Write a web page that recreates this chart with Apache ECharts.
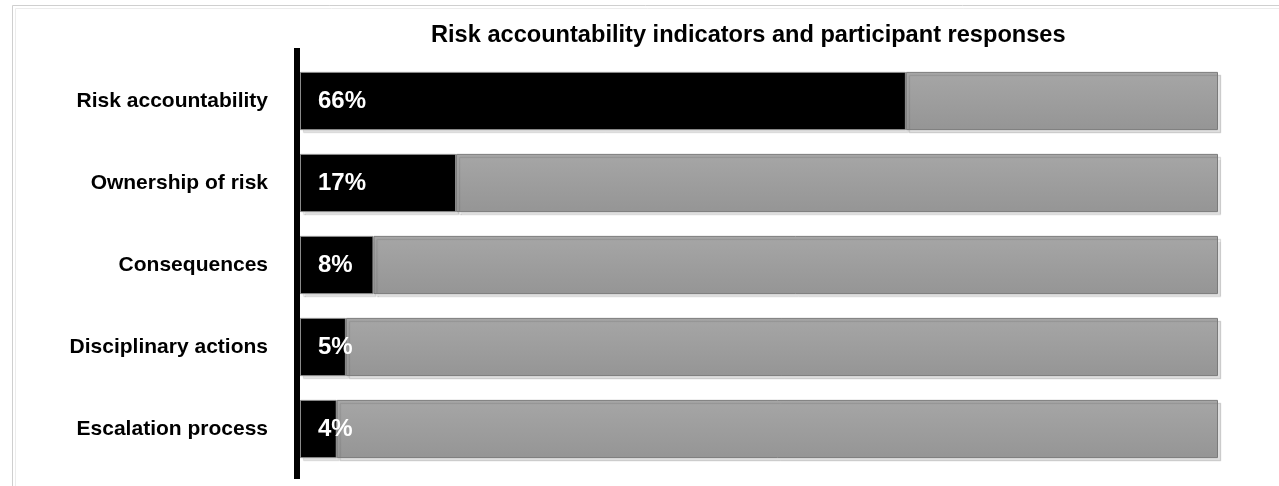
<!DOCTYPE html>
<html>
<head>
<meta charset="utf-8">
<style>
  html, body { margin: 0; padding: 0; background: #ffffff; }
  #chart { width: 1279px; height: 486px; }
</style>
<script src="https://cdn.jsdelivr.net/npm/echarts@6/dist/echarts.min.js"></script>
</head>
<body>
<div id="chart"></div>
<script>
// Indicators, top to bottom
const categories = [
  'Risk accountability',
  'Ownership of risk',
  'Consequences',
  'Disciplinary actions',
  'Escalation process'
];
// Share of participants reporting each indicator (%)
const indicatorShare = [66, 17, 8, 5, 4];
// Remaining share of participants (%)
const remainderShare = [34, 83, 92, 95, 96];

const FONT = '"Liberation Sans", Arial, Helvetica, sans-serif';

const chart = echarts.init(document.getElementById('chart'), null, { renderer: 'canvas' });

chart.setOption({
  backgroundColor: '#ffffff',
  animation: false,
  title: {
    text: 'Risk accountability indicators and participant responses',
    left: 426,
    top: 18,
    textStyle: { fontFamily: FONT, fontSize: 23.6, fontWeight: 'bold', color: '#000000' }
  },
  grid: { left: 300, right: 61, top: 60, bottom: 16, containLabel: false },
  xAxis: {
    type: 'value', min: 0, max: 100,
    show: false
  },
  yAxis: {
    type: 'category',
    data: categories,
    inverse: true,
    axisLine: { show: false },
    axisTick: { show: false },
    splitLine: { show: false },
    axisLabel: {
      margin: 32,
      fontFamily: FONT, fontSize: 21, fontWeight: 'bold', color: '#000000'
    }
  },
  series: [
    {
      name: 'Indicator',
      type: 'bar',
      stack: 'total',
      data: indicatorShare,
      barCategoryGap: '29%',
      itemStyle: {
        color: '#000000',
        borderColor: '#8a8a8a',
        borderWidth: 1,
        shadowColor: 'rgba(0,0,0,0.12)',
        shadowOffsetX: 3,
        shadowOffsetY: 3,
        shadowBlur: 1
      },
      label: {
        show: true,
        position: 'insideLeft',
        distance: 18,
        formatter: '{c}%',
        fontFamily: FONT, fontSize: 24, fontWeight: 'bold', color: '#ffffff'
      }
    },
    {
      name: 'Remainder',
      type: 'bar',
      stack: 'total',
      data: remainderShare,
      itemStyle: {
        color: new echarts.graphic.LinearGradient(0, 0, 0, 1, [
          { offset: 0, color: '#a6a6a6' },
          { offset: 1, color: '#959595' }
        ]),
        borderColor: '#7a7a7a',
        borderWidth: 1,
        shadowColor: 'rgba(0,0,0,0.12)',
        shadowOffsetX: 3,
        shadowOffsetY: 3,
        shadowBlur: 1
      }
    }
  ],
  graphic: [
    // outer frame
    { type: 'polyline', silent: true, z: -1,
      shape: { points: [[12.5, 486], [12.5, 5.5], [1279, 5.5]] },
      style: { stroke: '#cfcfcf', lineWidth: 1, fill: null } },
    { type: 'polyline', silent: true, z: -1,
      shape: { points: [[15.5, 486], [15.5, 8.5], [1279, 8.5]] },
      style: { stroke: '#ececec', lineWidth: 1, fill: null } },
    // heavy vertical baseline
    { type: 'rect', silent: true, z: 10,
      shape: { x: 294, y: 48, width: 6, height: 431 },
      style: { fill: '#000000' } }
  ]
});
</script>
</body>
</html>
